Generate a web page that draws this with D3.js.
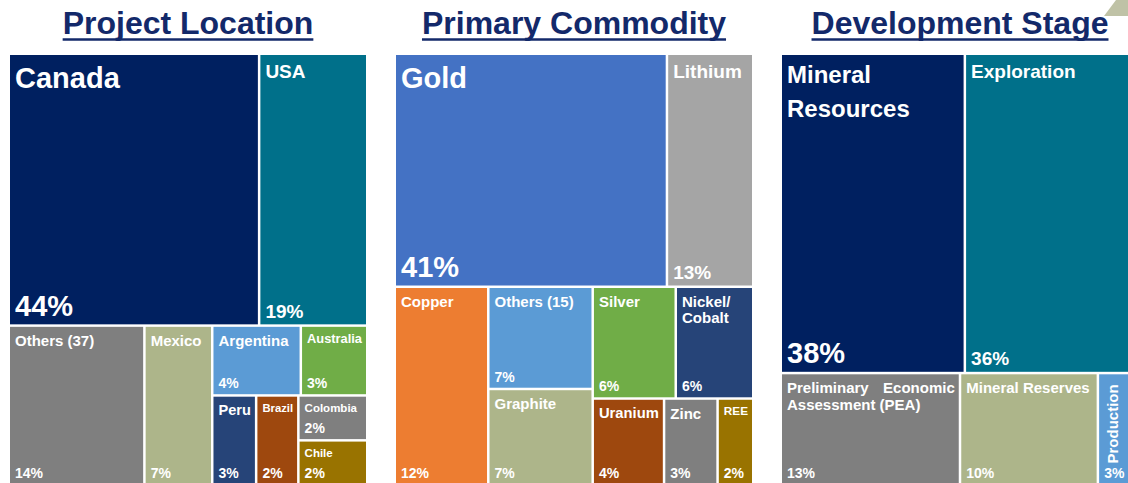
<!DOCTYPE html>
<html>
<head>
<meta charset="utf-8">
<script src="https://cdn.jsdelivr.net/npm/d3@7"></script>
<style>
  body { margin: 0; background: #fff; overflow: hidden; }
  text { font-family: "Liberation Sans", Arial, sans-serif; font-weight: bold; }
</style>
</head>
<body>
<svg id="chart" width="1128" height="483"></svg>
<script>
// chart data
const titles = ["Project Location", "Primary Commodity", "Development Stage"];

const locNames  = ["Canada", "USA", "Others (37)", "Mexico", "Argentina", "Australia", "Peru", "Brazil", "Colombia", "Chile"];
const locValues = [44, 19, 14, 7, 4, 3, 2.55, 2.45, 2, 2];

const comNames  = ["Gold", "Lithium", "Copper", "Others (15)", "Graphite", "Silver", "Nickel/Cobalt", "Uranium", "Zinc", "REE"];
const comValues = [41, 13, 12, 6.9, 6.5, 6, 5.6, 4, 3, 2];

const stageNames  = ["Mineral Resources", "Exploration", "Preliminary Economic Assessment (PEA)", "Mineral Reserves", "Production"];
const stageValues = [38, 36, 13, 10, 3];

// colours (office palette)
const locColors   = ["#002060", "#00708a", "#7f7f7f", "#adb58a", "#5b9bd5", "#70ad47", "#264478", "#9e480e", "#7f7f7f", "#997300"];
const comColors   = ["#4472c4", "#a5a5a5", "#ed7d31", "#5b9bd5", "#adb58a", "#70ad47", "#264478", "#9e480e", "#7f7f7f", "#997300"];
const stageColors = ["#002060", "#00708a", "#7f7f7f", "#adb58a", "#5b9bd5"];

// how each treemap is cut: "v" = stacked rows, "h" = side by side, numbers = item index
const locTiles   = ["v", ["h", 0, 1], ["h", 2, 3, ["v", ["h", 4, 5], ["h", 6, 7, ["v", 8, 9]]]]];
const comTiles   = ["v", ["h", 0, 1], ["h", 2, ["v", 3, 4], ["v", ["h", 5, 6], ["h", 7, 8, 9]]]];
const stageTiles = ["v", ["h", 0, 1], ["h", 2, 3, 4]];

const panels = [
  {names: locNames, values: locValues, colors: locColors, tiles: locTiles},
  {names: comNames, values: comValues, colors: comColors, tiles: comTiles},
  {names: stageNames, values: stageValues, colors: stageColors, tiles: stageTiles}
];

const panelW = 356, panelH = 429, panelTop = 55, panelStep = 386, panelLeft = 10;
const titleColor = "#13296a";

const svg = d3.select("#chart");

// little decoration top right
svg.append("polygon")
  .attr("points", "1116,0 1128,0 1128,16 1104,16")
  .attr("fill", "#bfc2a6");

function buildTree(spec, p) {
  if (typeof spec === "number") return {idx: spec, name: p.names[spec], value: p.values[spec]};
  return {dir: spec[0], children: spec.slice(1).map(s => buildTree(s, p))};
}

const tile = (node, x0, y0, x1, y1) =>
  (node.data.dir === "v" ? d3.treemapSlice : d3.treemapDice)(node, x0, y0, x1, y1);

// first box gets the big font, second the middle one, rest small
const sizeFor = (d, big, mid, small) => d.data.idx === 0 ? big : d.data.idx === 1 ? mid : small;

function textLen(t) { return t.node().getComputedTextLength(); }

function addName(g, d) {
  const w = d.x1 - d.x0, h = d.y1 - d.y0;
  const avail = w - 9;
  let size = sizeFor(d, 29, 19, h < 50 ? 11.5 : 15);
  const name = d.data.name;

  const t = g.append("text").attr("fill", "#fff").style("font-size", size + "px").text(name);
  let len = textLen(t);
  const words = name.replace(/\//g, "/ ").split(/\s+/);

  if (len <= avail) {
    t.attr("x", d.x0 + 5).attr("y", d.y0 + 3 + 1.05 * size);
    return;
  }
  if (avail / len < 0.6 && h > w) {
    // narrow box: turn the label on its side
    t.attr("text-anchor", "end")
      .attr("transform", `translate(${d.x0 + 3 + 1.05 * size},${d.y0 + 10}) rotate(-90)`);
    return;
  }
  if (words.length > 1) {
    if (size > 20) size = 24;
    t.style("font-size", size + "px").text(null);
    // greedy wrap
    const lines = [];
    let cur = words[0];
    for (let i = 1; i < words.length; i++) {
      t.text(cur + " " + words[i]);
      if (textLen(t) <= avail) cur = cur + " " + words[i];
      else { lines.push(cur); cur = words[i]; }
    }
    lines.push(cur);
    t.text(null);
    const lh = size * (size > 20 ? 1.4 : 1.1);
    lines.forEach((line, i) => {
      const ts = t.append("tspan")
        .attr("x", d.x0 + 5)
        .attr("y", d.y0 + 3 + 1.05 * size + i * lh)
        .text(line);
      const nSpaces = (line.match(/ /g) || []).length;
      if (i < lines.length - 1 && nSpaces > 0) {
        const extra = (avail - ts.node().getComputedTextLength()) / nSpaces;
        ts.attr("word-spacing", extra);
      }
    });
    return;
  }
  // single word too wide: shrink it
  size = size * avail / len;
  t.style("font-size", size + "px")
    .attr("x", d.x0 + 5).attr("y", d.y0 + 3 + 1.05 * size);
}

function addPct(g, d) {
  const w = d.x1 - d.x0;
  let size = sizeFor(d, 29, 19, 14);
  const t = g.append("text").attr("fill", "#fff")
    .style("font-size", size + "px")
    .text(Math.round(d.value) + "%");
  const len = textLen(t);
  if (len > w - 8) {
    size = size * (w - 8) / len;
    t.style("font-size", size + "px");
  }
  t.attr("x", d.x0 + 5).attr("y", d.y1 - (3 + 0.2 * size));
}

panels.forEach((p, i) => {
  const px = panelLeft + i * panelStep;

  // title + underline
  const title = svg.append("text")
    .attr("x", px + panelW / 2)
    .attr("y", 34)
    .attr("text-anchor", "middle")
    .attr("fill", titleColor)
    .style("font-size", "32px")
    .text(titles[i]);
  const tl = textLen(title);
  svg.append("line")
    .attr("x1", px + panelW / 2 - tl / 2)
    .attr("x2", px + panelW / 2 + tl / 2)
    .attr("y1", 39.5).attr("y2", 39.5)
    .attr("stroke", titleColor)
    .attr("stroke-width", 2.5);

  const root = d3.hierarchy(buildTree(p.tiles, p))
    .sum(d => d.children ? 0 : d.value);

  d3.treemap()
    .tile(tile)
    .size([panelW, panelH])
    .paddingInner(2.5)(root);

  const g = svg.append("g").attr("transform", `translate(${px},${panelTop})`);
  const leaves = root.leaves();

  g.selectAll("rect")
    .data(leaves)
    .join("rect")
    .attr("x", d => d.x0)
    .attr("y", d => d.y0)
    .attr("width", d => d.x1 - d.x0)
    .attr("height", d => d.y1 - d.y0)
    .attr("fill", d => p.colors[d.data.idx]);

  leaves.forEach(d => {
    addName(g, d);
    addPct(g, d);
  });
});
</script>
</body>
</html>
